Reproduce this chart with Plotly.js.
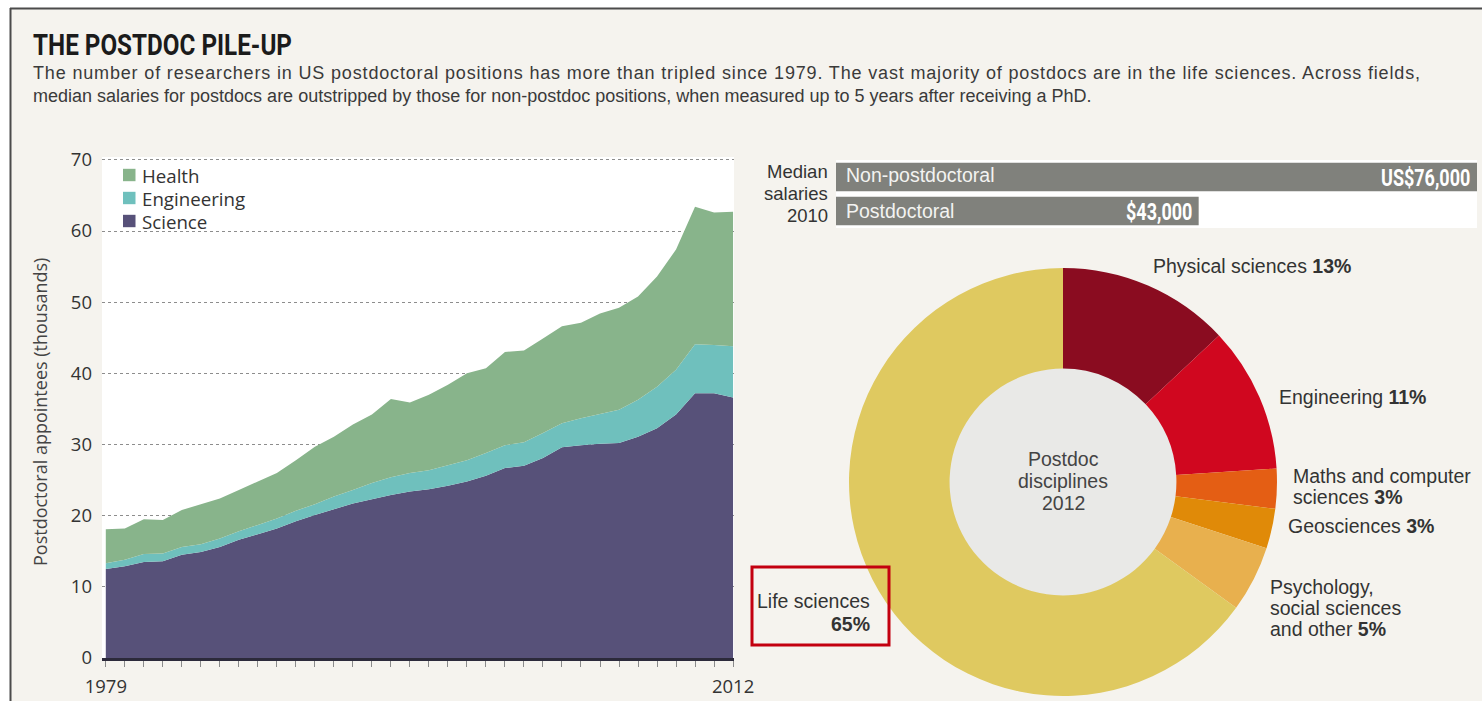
<!DOCTYPE html>
<html>
<head>
<meta charset="utf-8">
<script src="https://cdn.plot.ly/plotly-3.0.1.min.js"></script>
<style>
  html, body { margin: 0; padding: 0; background: #ffffff; }
  #chart { width: 1482px; height: 701px; }
</style>
</head>
<body>
<div id="chart"></div>
<script>
// ---------- data ----------
const years = [1979,1980,1981,1982,1983,1984,1985,1986,1987,1988,1989,1990,1991,1992,1993,1994,1995,
               1996,1997,1998,1999,2000,2001,2002,2003,2004,2005,2006,2007,2008,2009,2010,2011,2012];
const yearTickLabels = ['1979','2012'];
const science     = [12.5,12.9,13.5,13.6,14.5,14.9,15.6,16.6,17.4,18.2,19.2,20.1,20.9,21.7,22.3,22.9,23.4,
                     23.7,24.2,24.8,25.6,26.7,27.0,28.1,29.6,29.9,30.1,30.2,31.1,32.3,34.2,37.2,37.2,36.6];
const engineering = [0.8,0.9,1.1,1.1,1.1,1.1,1.2,1.2,1.3,1.4,1.5,1.5,1.8,1.9,2.3,2.5,2.6,
                     2.7,2.9,3.0,3.2,3.2,3.3,3.5,3.4,3.8,4.2,4.7,5.2,5.8,6.3,6.9,6.8,7.2];
const health      = [4.8,4.4,4.9,4.7,5.2,5.6,5.6,5.8,6.1,6.4,7.1,8.1,8.4,9.2,9.6,11.0,9.9,
                     10.6,11.3,12.2,11.9,13.1,12.9,13.3,13.6,13.4,14.1,14.3,14.5,15.5,16.9,19.3,18.6,18.9];
const fieldNames  = ['Health','Engineering','Science'];
const yTicks      = [0,10,20,30,40,50,60,70];

const salaryCategories = ['Non-postdoctoral','Postdoctoral'];
const salaryValues     = [76000, 43000];
const salaryLabels     = ['US$76,000', '$43,000'];

const disciplines = ['Physical sciences','Engineering','Maths and computer sciences','Geosciences',
                     'Psychology, social sciences and other','Life sciences'];
const disciplineShares = [13, 11, 3, 3, 5, 65];

// ---------- styling ----------
const W = 1482, H = 701;
const X = p => p / W;
const Y = p => 1 - p / H;
const BOLDFACE = 'Roboto, "DejaVu Sans", sans-serif';
const SANS = '"Liberation Sans", Arial, sans-serif';
const ROUND = '"Open Sans", "Noto Sans", sans-serif';
const C_SCI = '#575179', C_ENG = '#6fc0bd', C_HEA = '#88b48b';
const pieColors = ['#8a0c20','#d0071f','#e45e14','#e08a08','#e8b04e','#dfc960'];

const traces = [];
[[science, C_SCI], [engineering, C_ENG], [health, C_HEA]].forEach(([vals, col]) => {
  traces.push({
    type: 'scatter', x: years, y: vals, stackgroup: 'fields', mode: 'none',
    fillcolor: col, line: {width: 0, shape: 'linear'}, showlegend: false, hoverinfo: 'skip',
    xaxis: 'x', yaxis: 'y'
  });
});
traces.push({
  type: 'bar', orientation: 'h', x: salaryValues, y: salaryCategories,
  marker: {color: '#80817c'}, showlegend: false, hoverinfo: 'skip', xaxis: 'x2', yaxis: 'y2'
});
traces.push({
  type: 'pie', labels: disciplines, values: disciplineShares, hole: 0.53, sort: false,
  direction: 'clockwise', rotation: 0, textinfo: 'none', hoverinfo: 'skip',
  marker: {colors: pieColors, line: {width: 0}}, showlegend: false,
  domain: {x: [X(848), X(1278)], y: [Y(696), Y(268)]}
});

const annotations = [];
const fit = {};      // text -> [target width px, lengthAdjust]
const tall = {};     // text -> vertical stretch factor
function ann(text, x, y, opts) {
  annotations.push(Object.assign({text: text, x: X(x), y: Y(y), xref: 'paper', yref: 'paper',
    showarrow: false, xanchor: 'left', yanchor: 'middle', align: 'left'}, opts));
}
function lines(arr, x, y0, dy, opts) {
  arr.forEach((t, i) => ann(t, x, y0 + i * dy, opts));
}

// header
ann('THE POSTDOC PILE-UP', 31, 45, {font: {family: BOLDFACE, size: 30, color: '#1b1b1b', weight: 700}});
fit['THE POSTDOC PILE-UP'] = [259, 'spacingAndGlyphs'];
const sub1 = 'The number of researchers in US postdoctoral positions has more than tripled since 1979. The vast majority of postdocs are in the life sciences. Across fields,';
const sub2 = 'median salaries for postdocs are outstripped by those for non-postdoc positions, when measured up to 5 years after receiving a PhD.';
ann(sub1, 31, 73, {font: {family: SANS, size: 18, color: '#3a3a3a'}});
ann(sub2, 31, 96, {font: {family: SANS, size: 18, color: '#3a3a3a'}});
fit[sub1] = [1387, 'spacing'];

// area chart labels
ann('Postdoctoral appointees (thousands)', 40, 412, {textangle: -90, xanchor: 'center', align: 'center',
    font: {family: ROUND, size: 18, color: '#444'}});
const legendColors = [C_HEA, C_ENG, C_SCI];
const legendY = [175, 198, 221];
fieldNames.forEach((nm, i) => ann(nm, 140, legendY[i], {font: {family: ROUND, size: 18.7, color: '#333'}}));

// salary labels
const salFont = {family: SANS, size: 18.5, color: '#333'};
['Median', 'salaries', '2010'].forEach((t, i) =>
  ann(t, 830, 171 + i * 22, {xanchor: 'right', align: 'right', font: salFont}));
ann(salaryCategories[0], 844, 175, {font: {family: SANS, size: 19.5, color: '#f3f3f1'}});
ann(salaryCategories[1], 844, 211, {font: {family: SANS, size: 19.5, color: '#f3f3f1'}});
salaryLabels.forEach((t, i) => {
  annotations.push({text: t, x: salaryValues[i], y: salaryCategories[i], xref: 'x2', yref: 'y2',
    showarrow: false, xanchor: 'right', yanchor: 'middle', align: 'right', xshift: -5,
    font: {family: BOLDFACE, size: 18, color: '#ffffff', weight: 700}});
  tall[t] = 1.35;
});

// donut labels
const dFont = {family: SANS, size: 19.5, color: '#333'};
['Postdoc', 'disciplines', '2012'].forEach((t, i) =>
  ann(t, 1063, 459 + i * 22, {xanchor: 'center', align: 'center', font: {family: SANS, size: 19.5, color: '#444'}}));
ann('Physical sciences <b>13%</b>', 1151, 266, {font: dFont});
ann('Engineering <b>11%</b>', 1277, 397, {font: dFont});
lines(['Maths and computer', 'sciences <b>3%</b>'], 1291, 476, 21, {font: dFont});
ann('Geosciences <b>3%</b>', 1286, 526, {font: dFont});
lines(['Psychology,', 'social sciences', 'and other <b>5%</b>'], 1268, 587, 21, {font: dFont});
lines(['Life sciences', '<b>65%</b>'], 872, 601, 23, {xanchor: 'right', align: 'right', font: dFont});

const shapes = [
  {type: 'rect', xref: 'paper', yref: 'paper', x0: 0, x1: 1, y0: Y(8), y1: 1,
   fillcolor: '#ffffff', line: {width: 0}, layer: 'below'},
  {type: 'rect', xref: 'paper', yref: 'paper', x0: 0, x1: X(10), y0: 0, y1: 1,
   fillcolor: '#ffffff', line: {width: 0}, layer: 'below'},
  {type: 'line', xref: 'paper', yref: 'paper', x0: X(10), x1: 1, y0: Y(8.5), y1: Y(8.5),
   line: {color: '#4b4b4b', width: 2}},
  {type: 'line', xref: 'paper', yref: 'paper', x0: X(10.5), x1: X(10.5), y0: 0, y1: Y(8),
   line: {color: '#4b4b4b', width: 2}},
  {type: 'circle', xref: 'paper', yref: 'paper', x0: X(1063 - 114), x1: X(1063 + 114),
   y0: Y(482 + 114), y1: Y(482 - 114), fillcolor: '#e9e9e7', line: {width: 0}, layer: 'below'},
  {type: 'rect', xref: 'paper', yref: 'paper', x0: X(752), x1: X(889), y0: Y(645), y1: Y(567),
   line: {color: '#c3000f', width: 3}, fillcolor: 'rgba(0,0,0,0)'}
];
legendColors.forEach((c, i) => shapes.push({type: 'rect', xref: 'paper', yref: 'paper',
  x0: X(123), x1: X(135.5), y0: Y(legendY[i] + 6.2), y1: Y(legendY[i] - 6.2),
  fillcolor: c, line: {width: 0}}));

const layout = {
  width: W, height: H, margin: {l: 0, r: 0, t: 0, b: 0},
  paper_bgcolor: '#f5f3ee', plot_bgcolor: '#ffffff',
  showlegend: false,
  xaxis: {domain: [X(102), X(734)], range: [1978.8, 2012.05], anchor: 'y',
          tickmode: 'array', tickvals: years,
          ticktext: years.map(v => v === years[0] ? yearTickLabels[0] : (v === years[years.length-1] ? yearTickLabels[1] : '')),
          ticks: 'outside', ticklen: 6, tickcolor: '#8a8a8a', tickwidth: 1, ticklabelstandoff: 4,
          showline: true, linecolor: '#2c2a3b', linewidth: 2.5, showgrid: false, zeroline: false,
          tickfont: {family: ROUND, size: 18.5, color: '#333'}, fixedrange: true},
  yaxis: {domain: [Y(658), Y(157)], range: [0, 70.4], anchor: 'x',
          tickmode: 'array', tickvals: yTicks, ticks: '', showline: false, zeroline: false,
          showgrid: true, gridcolor: '#8d8d8d', gridwidth: 1, griddash: 'dot',
          tickfont: {family: ROUND, size: 18.5, color: '#333'}, ticklabelstandoff: 9, fixedrange: true},
  xaxis2: {domain: [X(836), X(1477)], range: [0, 76000], anchor: 'y2', visible: false, fixedrange: true},
  yaxis2: {domain: [Y(228), Y(160)], anchor: 'x2', visible: false, autorange: 'reversed',
           type: 'category', fixedrange: true},
  bargap: 0.16,
  annotations: annotations,
  shapes: shapes
};

Plotly.newPlot('chart', traces, layout, {displayModeBar: false, staticPlot: true}).then(() => {
  document.querySelectorAll('text.annotation-text').forEach(el => {
    const key = el.textContent;
    const f = fit[key];
    if (f) {
      el.setAttribute('textLength', f[0]);
      el.setAttribute('lengthAdjust', f[1]);
    }
    const s = tall[key];
    if (s) {
      el.style.transformBox = 'fill-box';
      el.style.transformOrigin = 'center';
      el.style.transform = 'scaleY(' + s + ')';
    }
  });
});
</script>
</body>
</html>
